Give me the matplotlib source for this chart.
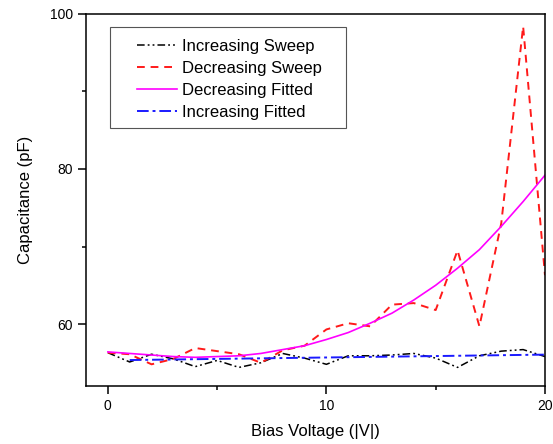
import matplotlib.pyplot as plt
from matplotlib.patches import Rectangle

plt.rcParams['font.family'] = ['Liberation Sans', 'DejaVu Sans']

# Bias voltage (|V|)
bias = list(range(0, 21))

# Capacitance (pF)
inc_sweep = [56.3, 55.1, 56.1, 55.5, 54.5, 55.3, 54.4, 55.0, 56.2, 55.6, 54.8,
             55.9, 55.9, 56.0, 56.2, 55.6, 54.4, 55.9, 56.5, 56.7, 55.8]
dec_sweep = [56.3, 56.1, 54.8, 55.5, 56.9, 56.5, 56.1, 55.0, 56.6, 57.2, 59.3,
             60.1, 59.7, 62.5, 62.7, 61.8, 69.5, 59.7, 73.0, 98.4, 66.3]
dec_fit = [56.4, 56.2, 56.0, 55.8, 55.7, 55.8, 55.9, 56.2, 56.7, 57.2, 58.0,
           58.9, 60.1, 61.4, 63.1, 65.0, 67.2, 69.6, 72.6, 75.8, 79.2]
inc_fit_x = [1, 20]
inc_fit = [55.35, 56.05]

fig = plt.figure(figsize=(5.53, 4.44), dpi=100)
ax = fig.add_axes([0.1555, 0.1306, 0.8300, 0.8379])

ax.plot(bias, inc_sweep, color='black', linewidth=1.1,
        dashes=(5, 2, 1.2, 2, 1.2, 2), label='Increasing Sweep')
ax.plot(bias, dec_sweep, color='#ff1a1a', linewidth=1.4,
        dashes=(4, 3), label='Decreasing Sweep')
ax.plot(bias, dec_fit, color='#ff00ff', linewidth=1.2,
        label='Decreasing Fitted')
ax.plot(inc_fit_x, inc_fit, color='#1a1aff', linewidth=1.4,
        dashes=(6, 2, 1.5, 2), label='Increasing Fitted')

ax.set_xlim(-1, 20)
ax.set_ylim(52, 100)
ax.set_xticks([0, 10, 20])
ax.set_xticks([5, 15], minor=True)
ax.set_yticks([60, 80, 100])
ax.set_yticks([70, 90], minor=True)
ax.tick_params(which='major', direction='out', length=6, width=1.1,
               labelsize=10, top=False, right=False)
ax.tick_params(which='minor', direction='out', length=3, width=1.1,
               top=False, right=False)
for s in ax.spines.values():
    s.set_linewidth(1.1)

ax.set_xlabel('Bias Voltage (|V|)', fontsize=12, labelpad=8)
ax.set_ylabel('Capacitance (pF)', fontsize=12, labelpad=12)

# legend entries without frame, box drawn separately (wider side padding)
ax.legend(loc='upper left', bbox_to_anchor=(0.1116, 0.932), fontsize=12,
          frameon=False, handlelength=2.4, labelspacing=0.42, borderpad=0,
          handletextpad=0.3, borderaxespad=0)
ax.add_patch(Rectangle((0.0525, 0.694), 0.5145, 0.271, transform=ax.transAxes,
                       fill=False, edgecolor='#555555', linewidth=0.8,
                       zorder=5))

fig.savefig('out.png', dpi=100)
